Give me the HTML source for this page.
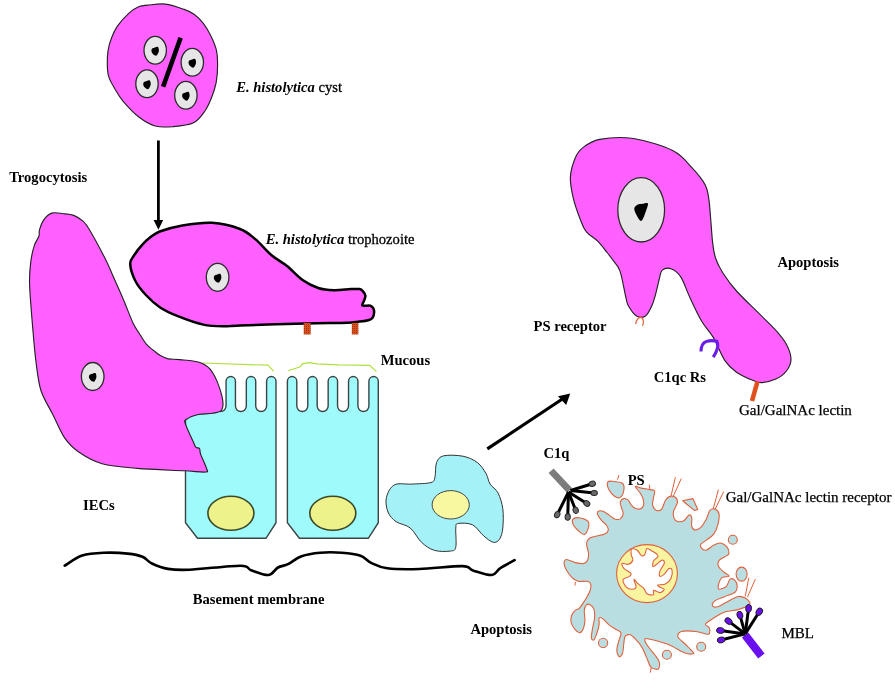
<!DOCTYPE html>
<html><head><meta charset="utf-8"><style>
html,body{margin:0;padding:0;background:#fff;width:895px;height:690px;overflow:hidden}
svg{display:block;will-change:transform}
text{font-family:"Liberation Serif"}
</style></head><body>
<svg width="895" height="690" viewBox="0 0 895 690">
<path d="M165.4,4.1 C171.4,4.8 179.4,7.7 184.2,9.4 C189.0,11.1 191.2,12.2 194.4,14.5 C197.6,16.8 200.4,19.8 203.1,23.2 C205.8,26.6 208.2,30.5 210.4,34.9 C212.6,39.3 215.0,44.4 216.2,49.4 C217.4,54.4 217.6,59.5 217.6,65.0 C217.6,70.5 217.2,77.1 216.2,82.4 C215.2,87.7 213.7,92.2 211.8,97.0 C209.9,101.8 207.7,107.2 204.6,111.5 C201.5,115.8 198.3,120.6 193.0,123.1 C187.7,125.6 178.9,126.2 172.6,126.7 C166.3,127.2 160.8,127.6 155.2,126.0 C149.6,124.4 144.5,121.4 139.2,117.3 C133.9,113.2 127.3,106.1 123.2,101.3 C119.1,96.5 116.9,92.3 114.5,88.2 C112.1,84.1 109.9,80.5 108.7,76.6 C107.5,72.7 107.4,69.3 107.3,65.0 C107.2,60.7 107.3,55.3 108.0,50.8 C108.7,46.3 110.0,41.9 111.6,37.8 C113.2,33.7 114.5,30.2 117.4,26.1 C120.3,22.0 125.4,16.4 129.0,13.1 C132.6,9.8 136.0,7.8 139.2,6.5 C142.3,5.2 143.5,5.5 147.9,5.1 C152.3,4.7 159.4,3.4 165.4,4.1Z" fill="#ff60ff" stroke="#222" stroke-width="1.15"/>
<ellipse cx="155.2" cy="50.3" rx="11.2" ry="13.9" fill="#e6e6e6" stroke="#2a2a2a" stroke-width="1.3"/><path d="M158.0,46.9 C158.6,47.5 159.1,49.7 158.9,51.1 C158.7,52.6 157.5,55.0 156.6,55.5 C155.7,56.0 154.2,55.0 153.4,54.4 C152.5,53.7 151.7,52.3 151.5,51.4 C151.3,50.4 151.6,49.3 152.2,48.6 C152.8,47.9 154.0,47.7 155.0,47.4 C155.9,47.2 157.3,46.3 158.0,46.9Z" fill="#000"/>
<ellipse cx="192.3" cy="62.3" rx="11.2" ry="13.9" fill="#e6e6e6" stroke="#2a2a2a" stroke-width="1.3"/><path d="M195.1,58.9 C195.7,59.5 196.2,61.7 196.0,63.1 C195.8,64.6 194.6,67.0 193.7,67.5 C192.8,68.0 191.3,67.0 190.5,66.3 C189.6,65.7 188.8,64.3 188.6,63.4 C188.4,62.4 188.7,61.3 189.3,60.6 C189.9,59.9 191.1,59.7 192.1,59.4 C193.0,59.2 194.4,58.3 195.1,58.9Z" fill="#000"/>
<ellipse cx="147" cy="83.8" rx="11.2" ry="13.9" fill="#e6e6e6" stroke="#2a2a2a" stroke-width="1.3"/><path d="M149.8,80.4 C150.4,81.0 150.9,83.2 150.7,84.6 C150.5,86.1 149.3,88.5 148.4,89.0 C147.5,89.5 146.0,88.5 145.2,87.8 C144.3,87.2 143.5,85.8 143.3,84.9 C143.1,83.9 143.4,82.8 144.0,82.1 C144.6,81.4 145.8,81.2 146.8,80.9 C147.7,80.7 149.1,79.8 149.8,80.4Z" fill="#000"/>
<ellipse cx="185.9" cy="95.3" rx="11.2" ry="13.9" fill="#e6e6e6" stroke="#2a2a2a" stroke-width="1.3"/><path d="M188.7,91.9 C189.3,92.5 189.8,94.7 189.6,96.1 C189.4,97.6 188.2,100.0 187.3,100.5 C186.4,101.0 184.9,100.0 184.1,99.3 C183.2,98.7 182.4,97.3 182.2,96.4 C182.0,95.4 182.3,94.3 182.9,93.6 C183.5,92.9 184.7,92.7 185.7,92.4 C186.6,92.2 188.0,91.3 188.7,91.9Z" fill="#000"/>
<line x1="180.6" y1="37.7" x2="163.1" y2="86.7" stroke="#000" stroke-width="4.6"/>
<line x1="158.4" y1="140.5" x2="158.4" y2="222" stroke="#000" stroke-width="2.8"/>
<path d="M153.6,220 L163.2,220 L158.4,229.8Z" fill="#000"/>
<path d="M185.5,522.6999999999999 L185.5,381.2 A4.7,4.7 0 0 1 194.9,381.2 L194.9,406.0625 A5.437499999999999,5.437499999999999 0 0 0 205.775,406.0625 L205.775,381.2 A4.7,4.7 0 0 1 215.175,381.2 L215.175,406.0625 A5.437499999999999,5.437499999999999 0 0 0 226.05,406.0625 L226.05,381.2 A4.7,4.7 0 0 1 235.45000000000002,381.2 L235.45000000000002,406.0625 A5.437499999999999,5.437499999999999 0 0 0 246.32500000000002,406.0625 L246.32500000000002,381.2 A4.7,4.7 0 0 1 255.72500000000002,381.2 L255.72500000000002,406.0625 A5.437499999999999,5.437499999999999 0 0 0 266.6,406.0625 L266.6,381.2 A4.7,4.7 0 0 1 276.0,381.2 L276.0,522.6999999999999 L266.0,538.3 L197.5,538.3Z" fill="#9ffbfb" stroke="#3a4444" stroke-width="1.4"/>
<path d="M287.4,522.6999999999999 L287.4,381.2 A4.7,4.7 0 0 1 296.79999999999995,381.2 L296.79999999999995,406.0125 A5.487500000000003,5.487500000000003 0 0 0 307.775,406.0125 L307.775,381.2 A4.7,4.7 0 0 1 317.17499999999995,381.2 L317.17499999999995,406.0125 A5.487500000000003,5.487500000000003 0 0 0 328.15,406.0125 L328.15,381.2 A4.7,4.7 0 0 1 337.54999999999995,381.2 L337.54999999999995,406.0125 A5.487500000000003,5.487500000000003 0 0 0 348.525,406.0125 L348.525,381.2 A4.7,4.7 0 0 1 357.92499999999995,381.2 L357.92499999999995,406.0125 A5.487500000000003,5.487500000000003 0 0 0 368.9,406.0125 L368.9,381.2 A4.7,4.7 0 0 1 378.29999999999995,381.2 L378.3,522.6999999999999 L368.3,538.3 L299.4,538.3Z" fill="#9ffbfb" stroke="#3a4444" stroke-width="1.4"/>
<ellipse cx="230.9" cy="513.3" rx="23" ry="17" fill="#eef28a" stroke="#3c4a28" stroke-width="1.6"/>
<ellipse cx="332.8" cy="513.3" rx="23" ry="17" fill="#eef28a" stroke="#3c4a28" stroke-width="1.6"/>
<path d="M202.5,363.0 L268.0,365.2 L273.8,371.3" fill="none" stroke="#b0e040" stroke-width="1.2"/>
<path d="M288.0,370.7 L300.3,366.7 L302.7,363.6 L309.5,362.6 L316.9,363.8 L339.0,364.8 L369.7,365.4 L376.5,371.6" fill="none" stroke="#b0e040" stroke-width="1.2"/>
<path d="M51.7,213.1 C55.0,212.0 59.6,213.3 63.3,213.7 C67.0,214.1 70.4,214.2 73.7,215.4 C77.0,216.7 80.3,218.7 83.0,221.2 C85.7,223.7 86.2,224.3 89.9,230.5 C93.6,236.7 100.8,250.1 105.0,258.3 C109.2,266.6 111.6,272.9 114.8,280.0 C118.0,287.1 121.0,293.8 124.0,301.0 C127.0,308.2 130.5,317.7 133.0,323.0 C135.5,328.3 136.8,329.5 139.0,333.0 C141.2,336.5 143.8,341.1 146.1,343.9 C148.4,346.7 150.6,348.1 153.0,350.0 C155.4,351.9 157.8,354.1 160.4,355.6 C163.0,357.1 165.0,358.2 168.3,358.9 C171.6,359.6 174.6,359.0 180.0,359.6 C185.4,360.2 195.3,360.7 200.7,362.8 C206.1,364.9 208.9,366.7 212.4,372.2 C215.9,377.7 220.2,389.4 221.8,395.7 C223.4,402.0 223.4,406.9 221.8,409.8 C220.2,412.7 216.3,412.5 212.4,413.3 C208.5,414.1 202.6,413.5 198.3,414.5 C194.0,415.5 188.8,417.6 186.6,419.2 C184.4,420.8 184.2,420.0 185.4,423.9 C186.6,427.8 191.8,438.7 193.6,442.6 C195.4,446.5 195.0,446.3 196.0,447.3 C197.0,448.3 198.7,447.3 199.5,448.5 C200.3,449.7 199.5,451.1 200.7,454.4 C201.9,457.7 205.7,465.5 206.5,468.4 C207.3,471.3 209.1,471.6 205.4,472.0 C201.7,472.4 195.5,471.4 184.2,470.8 C172.8,470.2 151.0,469.6 137.3,468.4 C123.6,467.2 111.9,466.4 102.1,463.7 C92.3,461.0 85.0,456.3 78.7,452.0 C72.5,447.7 68.9,444.1 64.6,437.9 C60.3,431.6 56.7,422.3 52.8,414.5 C48.9,406.7 43.8,399.2 41.1,391.0 C38.4,382.8 37.8,375.4 36.4,365.2 C35.0,355.0 34.0,343.4 32.9,330.0 C31.8,316.6 30.0,296.4 29.6,285.0 C29.2,273.6 30.0,268.4 30.8,261.8 C31.6,255.2 32.9,249.8 34.3,245.6 C35.6,241.3 38.0,238.9 38.9,236.3 C39.8,233.7 38.7,232.6 39.5,229.9 C40.3,227.2 41.6,222.9 43.6,220.1 C45.6,217.3 48.4,214.2 51.7,213.1Z" fill="#ff60ff" stroke="#222" stroke-width="1.15"/>
<ellipse cx="92.7" cy="376.5" rx="11.3" ry="14.0" fill="#e6e6e6" stroke="#2a2a2a" stroke-width="1.3"/><path d="M95.5,373.1 C96.1,373.7 96.6,375.9 96.4,377.3 C96.1,378.8 95.0,381.2 94.1,381.7 C93.2,382.2 91.7,381.2 90.9,380.6 C90.0,379.9 89.2,378.5 89.0,377.6 C88.8,376.6 89.1,375.5 89.7,374.8 C90.3,374.1 91.5,373.9 92.5,373.7 C93.4,373.4 94.8,372.5 95.5,373.1Z" fill="#000"/>
<path d="M130.2,263.7 C130.1,259.2 133.0,257.2 135.0,254.0 C137.0,250.8 139.9,247.3 142.4,244.6 C144.9,241.8 147.1,239.7 150.0,237.5 C152.9,235.3 154.4,233.5 159.8,231.5 C165.2,229.5 173.7,226.8 182.4,225.4 C191.1,224.0 202.4,222.2 212.0,222.8 C221.6,223.4 232.7,226.2 240.0,229.0 C247.3,231.8 250.4,235.1 255.6,239.4 C260.8,243.7 266.1,250.6 271.3,255.0 C276.5,259.4 281.8,261.8 287.0,266.0 C292.2,270.2 297.4,276.4 302.6,280.1 C307.8,283.8 313.0,286.3 318.2,288.0 C323.4,289.7 328.4,290.1 333.9,290.3 C339.3,290.5 346.6,289.3 350.9,289.1 C355.2,288.9 357.6,288.7 359.6,289.1 C361.7,289.5 362.2,290.5 363.2,291.6 C364.2,292.7 365.3,294.3 365.4,295.9 C365.5,297.5 364.4,299.5 363.9,301.0 C363.3,302.5 362.0,304.2 362.1,305.0 C362.2,305.8 363.2,305.6 364.6,305.7 C366.0,305.8 368.9,305.3 370.4,305.7 C371.8,306.1 372.7,307.1 373.3,308.3 C373.9,309.5 374.2,311.0 374.1,312.6 C374.0,314.2 373.6,316.4 372.6,317.7 C371.6,319.0 370.7,319.5 368.3,320.2 C365.9,320.9 361.6,321.3 358.1,321.7 C354.6,322.1 355.9,322.5 347.2,322.8 C338.5,323.1 323.6,323.1 305.7,323.5 C287.8,323.9 253.4,324.9 240.0,325.4 C226.6,325.9 231.1,326.4 225.0,326.3 C218.9,326.2 211.3,326.3 203.3,324.6 C195.3,322.9 184.4,318.8 177.2,315.9 C169.9,313.0 165.0,310.7 159.8,307.2 C154.6,303.7 150.0,299.4 145.9,295.0 C141.8,290.6 138.0,286.2 135.4,281.0 C132.8,275.8 130.3,268.2 130.2,263.7Z" fill="#ff60ff" stroke="#000" stroke-width="2.5" stroke-linejoin="round"/>
<ellipse cx="217.6" cy="277.3" rx="11.3" ry="14.0" fill="#e6e6e6" stroke="#2a2a2a" stroke-width="1.3"/><path d="M220.4,273.9 C221.0,274.5 221.5,276.7 221.3,278.1 C221.1,279.6 219.9,282.0 219.0,282.5 C218.1,283.0 216.6,282.0 215.8,281.4 C214.9,280.7 214.1,279.3 213.9,278.4 C213.7,277.4 214.0,276.3 214.6,275.6 C215.2,274.9 216.4,274.7 217.4,274.5 C218.3,274.2 219.7,273.3 220.4,273.9Z" fill="#000"/>
<defs><pattern id="rust" width="2" height="2" patternUnits="userSpaceOnUse"><rect width="2" height="2" fill="#d8501e"/><rect width="1" height="1" fill="#a03010"/></pattern></defs>
<rect x="303.7" y="323" width="7" height="11.5" fill="url(#rust)"/>
<rect x="351.8" y="323" width="6.6" height="11.5" fill="url(#rust)"/>
<path d="M64.7,565.7 C67.6,564.0 75.7,557.6 82.2,555.5 C88.7,553.4 96.0,553.1 103.6,552.8 C111.2,552.5 121.3,552.9 127.8,553.6 C134.3,554.3 138.5,555.1 142.5,556.8 C146.5,558.4 147.7,561.5 151.9,563.5 C156.2,565.5 161.8,567.9 168.0,568.9 C174.2,569.9 177.3,570.2 189.4,569.7 C201.5,569.2 230.1,565.6 240.4,565.7 C250.7,565.8 246.4,568.7 251.1,570.2 C255.8,571.8 264.1,575.5 268.6,575.0 C273.1,574.5 274.8,569.3 278.0,567.5 C281.2,565.7 284.1,566.1 288.0,564.2 C291.9,562.3 296.1,558.1 301.5,556.2 C306.9,554.3 313.5,553.3 320.2,552.7 C326.9,552.1 335.0,552.2 341.7,552.7 C348.4,553.2 355.6,554.0 360.5,555.7 C365.4,557.4 366.7,560.8 371.2,562.9 C375.7,565.0 379.3,567.3 387.3,568.3 C395.3,569.3 406.9,569.4 419.4,569.0 C431.9,568.6 453.5,565.9 462.4,566.1 C471.3,566.3 468.1,568.9 473.0,570.4 C477.9,571.9 487.3,575.4 491.8,575.0 C496.3,574.6 496.2,570.8 500.0,568.3 C503.8,565.8 512.2,561.6 514.6,560.2" fill="none" stroke="#000" stroke-width="2.6" stroke-linecap="round"/>
<path d="M443.8,455.8 C448.2,454.8 457.3,455.1 462.9,456.2 C468.5,457.3 473.4,459.6 477.3,462.5 C481.2,465.4 484.0,470.1 486.1,473.7 C488.2,477.3 488.1,480.9 490.1,484.1 C492.1,487.3 495.9,488.8 498.0,492.9 C500.1,497.0 502.0,502.9 502.8,508.8 C503.6,514.6 503.3,523.0 502.8,528.0 C502.3,533.0 501.2,536.7 499.6,539.1 C498.0,541.5 496.0,542.8 493.3,542.3 C490.6,541.8 487.2,538.8 483.7,535.9 C480.2,533.0 476.8,526.9 472.5,524.8 C468.2,522.7 461.0,523.0 458.2,523.5 C455.4,524.0 456.2,524.1 455.8,528.0 C455.4,531.9 456.7,543.2 455.8,547.1 C454.9,551.0 453.8,550.6 450.2,551.1 C446.6,551.6 439.0,551.8 434.2,550.3 C429.4,548.8 425.5,546.0 421.5,542.3 C417.5,538.6 414.6,531.5 410.3,528.0 C406.1,524.5 399.7,524.3 396.0,521.6 C392.3,518.9 389.6,516.0 388.0,512.0 C386.4,508.0 385.3,502.1 386.4,497.6 C387.5,493.1 390.1,487.1 394.4,484.9 C398.6,482.6 405.8,484.5 411.9,484.1 C418.0,483.7 427.1,483.7 431.0,482.5 C434.9,481.3 434.1,480.2 435.0,476.9 C435.9,473.6 435.1,466.0 436.6,462.5 C438.1,459.0 439.4,456.9 443.8,455.8Z" fill="#a4f2f8" stroke="#333" stroke-width="1"/>
<ellipse cx="450.7" cy="504.8" rx="18.6" ry="14.2" fill="#f8f8a0" stroke="#444" stroke-width="1"/>
<line x1="487.3" y1="448.9" x2="562" y2="399.2" stroke="#000" stroke-width="3.1"/>
<path d="M570.2,393.6 L558,396.2 L566.2,405Z" fill="#000"/>
<path d="M582.6,147.9 C586.7,144.8 591.1,141.0 599.6,139.4 C608.1,137.8 621.2,136.6 633.5,138.5 C645.8,140.4 663.4,145.8 673.1,150.7 C682.8,155.6 686.6,162.0 691.9,167.7 C697.2,173.4 702.3,179.4 705.1,184.7 C707.9,190.0 708.0,193.7 708.9,199.7 C709.8,205.7 710.2,213.3 710.8,220.5 C711.4,227.7 711.9,236.8 712.7,243.1 C713.5,249.3 713.9,253.1 715.5,258.0 C717.1,262.9 719.1,267.0 722.6,272.5 C726.1,278.0 730.3,284.1 736.5,291.0 C742.7,297.9 753.1,307.6 759.7,314.2 C766.3,320.8 771.5,325.4 775.9,330.4 C780.3,335.4 783.9,339.5 786.4,344.3 C788.9,349.1 791.0,354.9 791.0,359.4 C791.0,363.8 788.9,367.7 786.4,371.0 C783.9,374.3 780.0,377.2 775.9,379.1 C771.8,381.0 765.9,382.4 762.0,382.6 C758.1,382.8 757.0,382.0 752.7,380.3 C748.5,378.6 741.1,375.5 736.5,372.2 C731.9,368.9 728.8,366.4 724.9,360.6 C721.0,354.8 717.2,344.0 713.3,337.4 C709.4,330.8 705.6,327.8 701.7,321.2 C697.8,314.6 693.6,305.4 690.1,298.0 C686.6,290.6 684.0,281.9 680.9,277.1 C677.8,272.3 674.7,270.2 671.6,269.0 C668.5,267.8 664.4,268.3 662.3,270.1 C660.2,271.9 660.4,275.3 659.1,279.8 C657.9,284.3 656.1,292.8 654.8,297.2 C653.5,301.6 653.0,303.4 651.5,306.5 C650.0,309.6 648.0,314.4 645.5,316.0 C643.0,317.6 639.3,317.7 636.5,316.0 C633.7,314.3 630.3,309.1 628.5,306.0 C626.7,302.9 627.2,303.0 625.8,297.2 C624.4,291.4 622.2,277.3 620.0,271.1 C617.8,264.9 614.9,263.1 612.8,260.0 C610.6,256.9 609.6,255.6 607.1,252.5 C604.6,249.4 601.2,244.6 597.7,241.2 C594.2,237.8 589.2,235.2 586.4,231.8 C583.6,228.4 582.9,226.2 580.7,220.5 C578.5,214.8 574.9,205.0 573.2,197.8 C571.5,190.6 570.1,183.7 570.4,177.1 C570.7,170.5 573.1,163.2 575.1,158.3 C577.1,153.4 578.5,151.1 582.6,147.9Z" fill="#ff60ff" stroke="#222" stroke-width="1.15"/>
<ellipse cx="641.2" cy="209.8" rx="23.4" ry="32.2" fill="#e6e6e6" stroke="#2a2a2a" stroke-width="1.3"/>
<path d="M647.8,203.3 C648.5,204.2 647.5,206.6 646.5,209.5 C645.5,212.4 643.2,219.9 641.5,220.8 C639.8,221.7 637.7,217.1 636.5,215.0 C635.3,212.9 634.1,210.2 634.3,208.5 C634.5,206.8 636.1,205.6 637.5,204.8 C638.9,204.0 640.8,204.1 642.5,203.8 C644.2,203.6 647.1,202.4 647.8,203.3Z" fill="#000"/>
<path d="M635.6,324 C636.5,320 638.5,317.3 640.6,317.3 C642.8,317.3 643.6,320.5 643.4,322.9 C643.2,324.5 642.8,325.2 642.3,325.7" fill="none" stroke="#e0602e" stroke-width="1.2"/>
<path d="M701,351.6 C701,347.5 702.5,343 706,341.6 C709,340.6 714,340.6 716.8,341.2 C718.2,344 717.6,348.5 716.3,351.5 C715.3,353.6 714.3,355.5 713.2,357.2" fill="none" stroke="#6a1ee8" stroke-width="3.1"/>
<line x1="757.5" y1="381.5" x2="752" y2="401" stroke="#e0501e" stroke-width="4.6"/>
<path d="M635.4,486.4 C635.6,485.6 638.8,487.6 641.2,488.1 C643.6,488.6 647.8,489.1 650.0,489.6 C652.2,490.1 654.1,489.4 654.6,490.9 C655.1,492.4 653.6,496.3 653.3,498.7 C653.0,501.1 652.1,503.2 652.6,505.2 C653.1,507.1 655.0,509.8 656.5,510.4 C658.0,511.0 660.2,510.8 661.7,509.1 C663.2,507.4 664.1,502.2 665.6,500.0 C667.1,497.8 669.1,496.4 670.9,496.1 C672.6,495.8 675.0,496.9 676.1,498.0 C677.2,499.1 677.8,500.3 677.4,502.6 C677.0,504.9 674.0,509.1 673.5,511.7 C673.0,514.3 673.5,516.6 674.1,518.2 C674.8,519.8 675.8,521.1 677.4,521.5 C679.0,521.9 681.9,521.9 683.9,520.8 C685.9,519.7 687.8,515.5 689.1,515.0 C690.4,514.5 691.3,515.8 691.7,517.6 C692.1,519.5 691.2,524.0 691.7,526.1 C692.2,528.2 693.5,529.8 695.0,530.0 C696.5,530.2 698.9,529.1 700.8,527.4 C702.6,525.6 704.6,522.3 706.1,519.5 C707.6,516.7 708.5,512.1 710.0,510.4 C711.5,508.7 713.7,508.5 715.2,509.1 C716.7,509.8 718.7,511.7 719.1,514.3 C719.5,516.9 718.7,521.5 717.8,524.8 C716.9,528.1 715.8,531.3 713.9,533.9 C712.0,536.5 708.3,538.7 706.1,540.4 C703.9,542.1 701.6,543.0 700.8,544.3 C700.0,545.6 700.6,547.2 701.5,548.2 C702.4,549.2 704.0,550.7 706.1,550.2 C708.2,549.7 711.5,546.2 713.9,545.0 C716.3,543.8 718.2,542.7 720.4,543.0 C722.6,543.3 725.5,545.2 726.9,546.9 C728.3,548.6 729.0,551.9 728.9,553.4 C728.8,554.9 728.0,554.8 726.4,555.9 C724.8,557.0 720.4,558.6 719.1,560.3 C717.8,562.0 717.7,564.2 718.4,566.1 C719.1,568.0 721.7,570.2 723.5,571.9 C725.3,573.6 729.5,575.2 729.3,576.2 C729.0,577.2 723.8,576.2 722.0,577.7 C720.2,579.2 718.9,583.0 718.4,584.9 C717.9,586.8 717.8,589.0 719.1,589.3 C720.4,589.5 724.6,588.1 726.4,586.4 C728.2,584.7 728.5,580.1 730.0,579.1 C731.5,578.1 733.9,579.4 735.1,580.6 C736.3,581.8 737.2,584.5 737.2,586.4 C737.2,588.3 737.2,590.5 735.1,592.2 C733.0,593.9 728.3,595.0 724.9,596.5 C721.5,598.0 716.8,599.3 714.8,600.9 C712.8,602.5 712.1,604.9 712.6,605.9 C713.1,606.9 715.4,607.3 717.7,606.7 C720.0,606.1 723.0,604.0 726.4,602.3 C729.8,600.6 734.9,597.2 738.0,596.5 C741.1,595.8 743.3,597.0 745.2,598.0 C747.1,599.0 749.0,601.1 749.6,602.3 C750.2,603.5 750.7,604.0 748.8,605.2 C746.9,606.4 742.2,608.4 738.0,609.6 C733.8,610.8 727.6,611.0 723.5,612.5 C719.4,614.0 716.3,616.4 713.3,618.3 C710.3,620.2 706.1,622.5 705.4,624.1 C704.7,625.7 708.8,626.2 709.3,627.9 C709.8,629.6 710.6,633.6 708.4,634.2 C706.2,634.8 700.4,632.0 695.9,631.5 C691.4,631.0 684.6,630.6 681.6,631.5 C678.6,632.4 677.4,634.8 678.0,636.9 C678.6,639.0 682.7,641.6 685.1,644.0 C687.5,646.4 690.9,649.6 692.3,651.2 C693.6,652.8 694.4,653.5 693.2,653.8 C692.0,654.1 689.4,654.6 685.1,653.0 C680.8,651.4 673.5,646.4 667.3,644.0 C661.0,641.6 651.3,639.3 647.6,638.7 C643.9,638.1 644.9,639.2 644.9,640.4 C644.9,641.6 646.0,643.4 647.6,645.8 C649.2,648.2 652.8,652.0 654.7,654.7 C656.6,657.4 658.6,659.5 659.2,661.9 C659.8,664.3 659.6,668.1 658.3,669.0 C657.0,669.9 653.0,668.8 651.2,667.3 C649.4,665.8 649.1,663.4 647.6,660.1 C646.1,656.8 644.3,651.2 642.2,647.6 C640.1,644.0 637.1,640.8 635.1,638.7 C633.1,636.6 631.7,635.1 630.0,634.8 C628.3,634.5 626.1,633.8 624.9,636.8 C623.7,639.8 623.6,649.7 622.6,653.0 C621.6,656.3 620.0,657.0 619.0,656.5 C618.0,656.0 616.8,652.6 616.8,650.0 C616.8,647.4 618.1,643.8 618.8,640.9 C619.5,638.0 621.6,634.8 620.9,632.8 C620.2,630.8 616.8,630.1 614.8,628.7 C612.8,627.3 610.7,626.3 608.7,624.6 C606.7,622.9 604.2,619.7 602.6,618.6 C601.0,617.5 599.7,617.0 599.1,618.0 C598.5,619.0 599.5,622.1 599.1,624.6 C598.8,627.1 597.9,630.2 597.0,632.8 C596.1,635.3 594.9,639.1 594.0,639.9 C593.1,640.7 591.6,639.7 591.4,637.8 C591.1,635.9 592.0,631.9 592.5,628.7 C593.0,625.5 594.2,621.8 594.5,618.6 C594.8,615.4 594.7,611.7 594.0,609.4 C593.3,607.1 591.7,605.6 590.4,604.9 C589.1,604.1 587.4,604.0 586.4,604.9 C585.4,605.8 584.5,607.8 584.3,610.4 C584.0,613.0 585.1,617.5 584.9,620.6 C584.7,623.7 584.1,626.7 583.3,628.7 C582.4,630.7 581.1,632.6 579.8,632.8 C578.4,633.0 576.6,631.4 575.2,629.7 C573.8,628.0 571.8,625.0 571.2,622.6 C570.6,620.2 571.0,617.5 571.7,615.5 C572.4,613.5 573.9,611.6 575.2,610.4 C576.5,609.2 577.8,609.9 579.3,608.4 C580.8,606.9 582.6,604.0 584.3,601.3 C586.0,598.6 588.3,594.9 589.4,592.2 C590.5,589.5 591.1,586.9 590.9,585.1 C590.7,583.3 590.2,582.1 588.4,581.5 C586.6,580.9 582.1,581.6 580.3,581.5 C578.4,581.4 578.6,581.4 577.3,580.8 C576.0,580.2 574.1,579.6 572.3,577.8 C570.4,575.9 567.6,572.1 566.2,569.7 C564.8,567.3 564.1,565.3 564.1,563.6 C564.1,561.9 564.3,559.7 566.2,559.5 C568.1,559.3 572.4,561.9 575.3,562.6 C578.2,563.3 581.4,564.0 583.4,563.6 C585.4,563.2 586.6,562.2 587.5,560.5 C588.4,558.8 588.7,556.3 588.5,553.4 C588.3,550.5 586.3,545.8 586.5,543.3 C586.7,540.8 588.0,539.4 589.5,538.2 C591.0,537.0 593.1,536.9 595.6,536.2 C598.1,535.5 602.6,535.1 604.7,534.1 C606.8,533.1 608.0,531.6 608.3,530.1 C608.6,528.6 607.5,526.8 606.4,525.2 C605.3,523.6 603.2,522.3 601.8,520.6 C600.3,518.9 598.3,516.3 597.7,514.8 C597.1,513.2 597.4,511.9 598.3,511.3 C599.2,510.7 601.2,510.7 602.9,511.3 C604.6,511.9 606.8,513.5 608.7,514.8 C610.6,516.1 612.6,518.2 614.5,518.9 C616.4,519.6 618.8,519.8 620.3,518.9 C621.8,518.0 623.0,515.5 623.2,513.6 C623.4,511.8 622.0,509.7 621.5,507.8 C621.0,505.9 619.9,503.5 620.3,502.0 C620.7,500.5 622.4,498.9 623.8,498.6 C625.1,498.3 627.2,499.3 628.4,500.3 C629.6,501.3 629.8,503.1 630.8,504.4 C631.8,505.6 632.7,507.0 634.2,507.8 C635.7,508.6 638.5,509.4 640.0,509.0 C641.5,508.6 643.0,507.2 643.5,505.5 C644.0,503.8 643.6,500.7 643.0,498.6 C642.4,496.5 641.3,494.8 640.0,492.8 C638.7,490.8 635.2,487.2 635.4,486.4Z" fill="#b9dee2" stroke="#e0603a" stroke-width="1.1"/>
<path d="M607.6,482.3 C608.2,480.9 609.7,481.0 612.2,481.2 C614.7,481.4 620.7,482.0 622.6,483.5 C624.5,485.0 624.2,488.1 623.8,490.4 C623.4,492.7 621.8,496.4 620.3,497.4 C618.8,498.4 616.4,497.5 614.5,496.2 C612.6,494.9 609.9,491.6 608.7,489.3 C607.6,487.0 607.0,483.7 607.6,482.3Z" fill="#b9dee2" stroke="#e0603a" stroke-width="1.1"/>
<path d="M572.8,519.4 C573.7,518.2 576.1,517.4 578.6,517.7 C581.1,518.0 586.2,519.6 587.8,521.2 C589.4,522.9 589.0,525.4 588.4,527.6 C587.8,529.8 586.0,533.9 584.4,534.5 C582.8,535.1 580.5,532.6 578.6,531.0 C576.8,529.4 574.3,526.6 573.3,524.7 C572.3,522.8 571.9,520.6 572.8,519.4Z" fill="#b9dee2" stroke="#e0603a" stroke-width="1.1"/>
<path d="M682.6,500.8 L692.8,498.6 L697.8,509.4 L694.6,510.6 Z" fill="#b9dee2" stroke="#e0603a" stroke-width="1.1" stroke-linejoin="round"/>
<ellipse cx="732.8" cy="539.8" rx="4.5" ry="4.5" fill="#b9dee2" stroke="#e0603a" stroke-width="1.1"/>
<ellipse cx="741.6" cy="574.1" rx="5.5" ry="7" fill="#b9dee2" stroke="#e0603a" stroke-width="1.1"/>
<ellipse cx="603.1" cy="642.9" rx="4.6" ry="4.6" fill="#b9dee2" stroke="#e0603a" stroke-width="1.1"/>
<ellipse cx="666.9" cy="654.7" rx="4.5" ry="4.5" fill="#b9dee2" stroke="#e0603a" stroke-width="1.1"/>
<ellipse cx="701.2" cy="646.7" rx="4.5" ry="4.5" fill="#b9dee2" stroke="#e0603a" stroke-width="1.1"/>
<line x1="670.9" y1="496.7" x2="675.4" y2="477.2" stroke="#e0603a" stroke-width="1"/>
<line x1="672.8" y1="497.4" x2="681.3" y2="478.5" stroke="#e0603a" stroke-width="1"/>
<line x1="713.2" y1="509.1" x2="718.4" y2="489.6" stroke="#e0603a" stroke-width="1"/>
<line x1="715.2" y1="509.1" x2="723.7" y2="491.5" stroke="#e0603a" stroke-width="1"/>
<line x1="745.2" y1="596.5" x2="748.8" y2="577.7" stroke="#e0603a" stroke-width="1"/>
<line x1="747.4" y1="597.2" x2="755.4" y2="579.1" stroke="#e0603a" stroke-width="1"/>
<line x1="649.3" y1="484.6" x2="649.8" y2="489" stroke="#e0603a" stroke-width="1"/>
<line x1="617.4" y1="479.6" x2="619" y2="475" stroke="#e0603a" stroke-width="1"/>
<line x1="575.3" y1="581.9" x2="575.0" y2="585.5" stroke="#e0603a" stroke-width="1"/>
<line x1="651.2" y1="667.3" x2="650.3" y2="672.6" stroke="#e0603a" stroke-width="1"/>
<ellipse cx="647" cy="573.6" rx="30.4" ry="29" fill="#f8f4a0" stroke="#e0603a" stroke-width="1.1"/>
<path d="M631.7,549.1 C632.7,548.4 635.6,549.1 637.2,550.2 C638.8,551.3 640.2,555.0 641.5,555.7 C642.8,556.4 643.9,555.8 644.8,554.6 C645.7,553.4 645.7,549.2 647.0,548.6 C648.3,548.0 650.8,550.4 652.4,551.3 C654.0,552.2 655.8,553.1 656.7,554.0 C657.6,554.9 658.3,555.5 657.8,556.7 C657.3,557.9 654.3,559.5 653.5,561.1 C652.7,562.7 652.4,566.0 652.9,566.5 C653.4,567.0 655.2,565.4 656.7,564.3 C658.2,563.2 660.9,560.2 662.2,560.0 C663.5,559.8 664.7,561.5 664.3,563.3 C663.9,565.1 660.7,568.7 660.0,570.9 C659.3,573.1 659.3,575.8 660.0,576.3 C660.7,576.8 662.8,575.4 664.3,574.1 C665.8,572.8 667.4,569.4 668.7,568.7 C670.0,568.0 671.6,568.2 672.0,569.8 C672.4,571.4 672.0,576.1 670.9,578.5 C669.8,580.9 667.6,582.8 665.4,583.9 C663.2,585.0 658.7,584.5 657.8,585.0 C656.9,585.5 658.9,586.5 660.0,587.2 C661.1,587.9 664.3,588.4 664.3,589.3 C664.3,590.2 661.8,592.4 660.0,592.6 C658.2,592.8 654.6,590.0 653.5,590.4 C652.4,590.8 654.6,594.2 653.5,594.8 C652.4,595.3 648.6,594.8 647.0,593.7 C645.4,592.6 645.2,589.9 643.7,588.3 C642.2,586.7 639.9,585.3 638.3,583.9 C636.7,582.5 634.3,579.0 633.9,579.6 C633.5,580.2 636.5,585.6 636.1,587.2 C635.7,588.8 633.3,589.3 631.7,589.3 C630.1,589.3 627.8,588.8 626.3,587.2 C624.8,585.6 622.5,581.4 623.0,579.6 C623.5,577.8 628.3,577.4 629.6,576.3 C630.9,575.2 631.6,574.3 630.7,573.0 C629.8,571.7 625.6,570.3 624.1,568.7 C622.6,567.1 621.3,564.0 622.0,563.3 C622.7,562.6 626.7,564.8 628.5,564.3 C630.3,563.8 632.3,561.6 632.8,560.0 C633.2,558.4 631.4,556.4 631.2,554.6 C631.0,552.8 630.7,549.8 631.7,549.1Z" fill="#fff" stroke="#e0603a" stroke-width="1.1"/>
<defs><pattern id="hatch" width="2" height="2" patternUnits="userSpaceOnUse" patternTransform="rotate(45)"><rect width="2" height="2" fill="#8a8a8a"/><rect width="1" height="2" fill="#6e6e6e"/></pattern></defs>
<path d="M548.6,473.1 L553.6,468.4 L572,488 L567,492.7Z" fill="url(#hatch)"/>
<line x1="570.5" y1="490.5" x2="592.3" y2="483.8" stroke="#000" stroke-width="3"/>
<line x1="570.5" y1="490.5" x2="594.2" y2="493" stroke="#000" stroke-width="3"/>
<line x1="568.5" y1="492" x2="586.8" y2="503.5" stroke="#000" stroke-width="3"/>
<line x1="568.5" y1="492" x2="575.7" y2="510.3" stroke="#000" stroke-width="3"/>
<line x1="568.5" y1="492" x2="567.7" y2="517" stroke="#000" stroke-width="3"/>
<line x1="568.5" y1="492" x2="557.2" y2="514.6" stroke="#000" stroke-width="3"/>
<ellipse cx="592.3" cy="483.8" rx="3.2" ry="2.6" transform="rotate(-16.4 592.3 483.8)" fill="#6a6a6a" stroke="#2a2a2a" stroke-width="1"/>
<ellipse cx="594.2" cy="493.0" rx="3.2" ry="2.6" transform="rotate(5.8 594.2 493.0)" fill="#6a6a6a" stroke="#2a2a2a" stroke-width="1"/>
<ellipse cx="586.8" cy="503.5" rx="3.2" ry="2.6" transform="rotate(36.9 586.8 503.5)" fill="#6a6a6a" stroke="#2a2a2a" stroke-width="1"/>
<ellipse cx="575.7" cy="510.3" rx="3.2" ry="2.6" transform="rotate(72.6 575.7 510.3)" fill="#6a6a6a" stroke="#2a2a2a" stroke-width="1"/>
<ellipse cx="567.7" cy="517.0" rx="3.2" ry="2.6" transform="rotate(93.9 567.7 517.0)" fill="#6a6a6a" stroke="#2a2a2a" stroke-width="1"/>
<ellipse cx="557.2" cy="514.6" rx="3.2" ry="2.6" transform="rotate(117.0 557.2 514.6)" fill="#6a6a6a" stroke="#2a2a2a" stroke-width="1"/>
<path d="M741.9,637.5 L748.3,632.6 L764.6,653.6 L758.2,658.5Z" fill="#6a10f0"/>
<line x1="745.2" y1="633.9" x2="720.4" y2="630.5" stroke="#000" stroke-width="3"/>
<line x1="745.2" y1="633.9" x2="721.1" y2="640" stroke="#000" stroke-width="3"/>
<line x1="745.2" y1="633.9" x2="728.5" y2="621.1" stroke="#000" stroke-width="3"/>
<line x1="745.2" y1="633.9" x2="739.9" y2="615.1" stroke="#000" stroke-width="3"/>
<line x1="745.2" y1="633.9" x2="748.6" y2="608.4" stroke="#000" stroke-width="3"/>
<line x1="745.2" y1="633.9" x2="759.3" y2="611.8" stroke="#000" stroke-width="3"/>
<ellipse cx="720.4" cy="630.5" rx="3.9" ry="2.9" transform="rotate(-172.2 720.4 630.5)" fill="#6a10f0" stroke="#1a1a1a" stroke-width="0.9"/>
<ellipse cx="721.1" cy="640.0" rx="3.9" ry="2.9" transform="rotate(165.8 721.1 640.0)" fill="#6a10f0" stroke="#1a1a1a" stroke-width="0.9"/>
<ellipse cx="728.5" cy="621.1" rx="3.9" ry="2.9" transform="rotate(-142.5 728.5 621.1)" fill="#6a10f0" stroke="#1a1a1a" stroke-width="0.9"/>
<ellipse cx="739.9" cy="615.1" rx="3.9" ry="2.9" transform="rotate(-105.7 739.9 615.1)" fill="#6a10f0" stroke="#1a1a1a" stroke-width="0.9"/>
<ellipse cx="748.6" cy="608.4" rx="3.9" ry="2.9" transform="rotate(-82.4 748.6 608.4)" fill="#6a10f0" stroke="#1a1a1a" stroke-width="0.9"/>
<ellipse cx="759.3" cy="611.8" rx="3.9" ry="2.9" transform="rotate(-57.5 759.3 611.8)" fill="#6a10f0" stroke="#1a1a1a" stroke-width="0.9"/>
<text x="236.2" y="91.5" font-size="14.6" font-weight="bold" font-style="normal" fill="#000"><tspan font-style="italic">E. histolytica</tspan> <tspan font-weight="normal" stroke="#000" stroke-width="0.3">cyst</tspan></text>
<text x="9.2" y="181.5" font-size="14.6" font-weight="bold" font-style="normal" fill="#000">Trogocytosis</text>
<text x="265.7" y="244.3" font-size="14.6" font-weight="bold" font-style="normal" fill="#000"><tspan font-style="italic">E. histolytica</tspan> <tspan font-weight="normal" stroke="#000" stroke-width="0.3">trophozoite</tspan></text>
<text x="380.7" y="364.7" font-size="14.6" font-weight="bold" font-style="normal" fill="#000">Mucous</text>
<text x="83.0" y="509.9" font-size="14.6" font-weight="bold" font-style="normal" fill="#000">IECs</text>
<text x="192.7" y="604.1" font-size="14.6" font-weight="bold" font-style="normal" fill="#000">Basement membrane</text>
<text x="470.4" y="634.2" font-size="14.6" font-weight="bold" font-style="normal" fill="#000">Apoptosis</text>
<text x="533.5" y="330.7" font-size="14.6" font-weight="bold" font-style="normal" fill="#000">PS receptor</text>
<text x="777.4" y="267" font-size="14.6" font-weight="bold" font-style="normal" fill="#000">Apoptosis</text>
<text x="653.7" y="381.8" font-size="14.6" font-weight="bold" font-style="normal" fill="#000">C1qc Rs</text>
<text x="739.0" y="414.8" font-size="15" font-weight="normal" font-style="normal" fill="#000" stroke="#000" stroke-width="0.25">Gal/GalNAc lectin</text>
<text x="543.5" y="457.9" font-size="14.6" font-weight="bold" font-style="normal" fill="#000">C1q</text>
<text x="627.7" y="485" font-size="14.6" font-weight="bold" font-style="normal" fill="#000">PS</text>
<text x="725.7" y="502.2" font-size="15" font-weight="normal" font-style="normal" fill="#000" stroke="#000" stroke-width="0.25">Gal/GalNAc lectin receptor</text>
<text x="781.5" y="637.6" font-size="15" font-weight="normal" font-style="normal" fill="#000" stroke="#000" stroke-width="0.25">MBL</text>
</svg>
</body></html>
